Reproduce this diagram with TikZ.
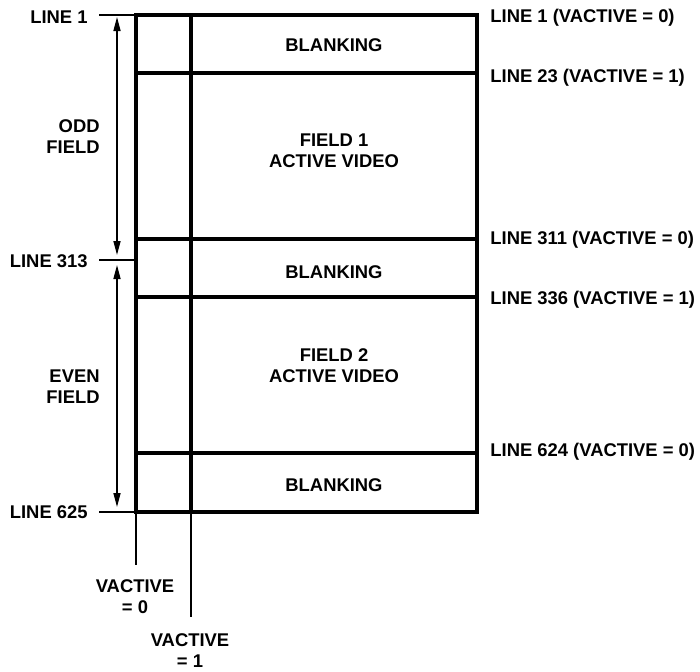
\documentclass[tikz,border=0pt]{standalone}
\usepackage{fontspec}
\setmainfont{Liberation Sans}
\usetikzlibrary{arrows.meta,positioning}

\begin{document}
\begin{tikzpicture}[x=0.5pt,y=-0.5pt,
    frame/.style={line width=1.6pt},
    lead/.style={line width=1pt},
    refline/.style={line width=0.75pt},
    fieldspan/.style={line width=0.75pt,{Triangle[length=7pt,width=3.5pt]}-{Triangle[length=7pt,width=3.5pt]}},
    lbl/.style={font=\fontsize{9.2}{10.5}\selectfont\bfseries,inner sep=0pt,align=center}]
    \useasboundingbox (0,0) rectangle (700,671);

    % Frame rows
    \draw[frame] (136,15) rectangle (477,73);
    \draw[frame] (136,73) rectangle (477,239);
    \draw[frame] (136,239) rectangle (477,297);
    \draw[frame] (136,297) rectangle (477,453);
    \draw[frame] (136,453) rectangle (477,512);

    % Row texts
    \node[lbl] (blank1) at (334,45) {BLANKING};
    \node[lbl] (field1) at (334,151) {FIELD 1\\ACTIVE VIDEO};
    \node[lbl] (blank2) at (334,272) {BLANKING};
    \node[lbl] (field2) at (334,366) {FIELD 2\\ACTIVE VIDEO};
    \node[lbl] (blank3) at (334,485) {BLANKING};

    % VACTIVE columns
    \coordinate (v0top) at (136,512);
    \coordinate (v0end) at (136,565);
    \coordinate (v1top) at (191,15);
    \coordinate (v1bot) at (191,512);
    \coordinate (v1end) at (191,617);
    \draw[frame] (v1top) -- (v1bot);
    \draw[lead] (v0top) -- (v0end);
    \draw[lead] (v1bot) -- (v1end);
    \node[lbl] (vact0) at (135,597) {VACTIVE\\= 0};
    \node[lbl] (vact1) at (190,651) {VACTIVE\\= 1};

    % Left line markers
    \node[lbl,anchor=east] (line1) at (88,17) {LINE 1};
    \node[lbl,anchor=east] (line313) at (88,261) {LINE 313};
    \node[lbl,anchor=east] (line625) at (88,512) {LINE 625};
    \coordinate (m1) at (99,15);
    \coordinate (m313) at (99,260);
    \coordinate (m625) at (99,512);
    \draw[refline] (m1) -- (136,15);
    \draw[refline] (m313) -- (136,260);
    \draw[refline] (m625) -- (136,512);

    % Field spans
    \coordinate (oddtop) at (117,17);
    \coordinate (oddbot) at (117,255);
    \coordinate (eventop) at (117,265);
    \coordinate (evenbot) at (117,507);
    \draw[fieldspan] (oddtop) -- (oddbot);
    \draw[fieldspan] (eventop) -- (evenbot);
    \node[lbl,align=right,anchor=east] (odd) at (100,137) {ODD\\FIELD};
    \node[lbl,align=right,anchor=east] (even) at (100,387) {EVEN\\FIELD};

    % Right line markers
    \node[lbl,anchor=west] (r1) at (490,18) {LINE 1 (VACTIVE = 0)};
    \node[lbl,anchor=west] (r23) at (490,78) {LINE 23 (VACTIVE = 1)};
    \node[lbl,anchor=west] (r311) at (490,240) {LINE 311 (VACTIVE = 0)};
    \node[lbl,anchor=west] (r336) at (490,300) {LINE 336 (VACTIVE = 1)};
    \node[lbl,anchor=west] (r624) at (490,452) {LINE 624 (VACTIVE = 0)};
\end{tikzpicture}
\end{document}
